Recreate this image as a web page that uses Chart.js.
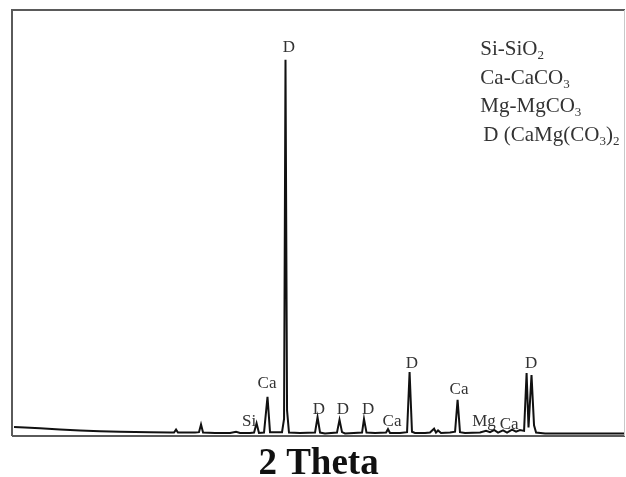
<!DOCTYPE html>
<html>
<head>
<meta charset="utf-8">
<script src="https://cdn.jsdelivr.net/npm/chart.js@4"></script>
<style>
  body { margin: 0; background: #fff; }
  canvas { display: block; }
</style>
</head>
<body>
<canvas id="myChart" width="626" height="477"></canvas>
<script>
// XRD pattern (2 theta in degrees, intensity in counts)
const theta = [
  8.17, 9.08, 10.33, 12.0, 13.67, 15.33, 17.0, 19.5, 21.17, 21.5, 21.67, 21.83,
  23.25, 23.58, 23.75, 23.92, 24.92, 26.17, 26.67, 27.0, 27.83, 28.17, 28.38, 28.58,
  29.0, 29.29, 29.5, 30.5, 30.67, 30.79, 30.92, 31.08, 32.0, 33.25, 33.46, 33.67,
  34.08, 35.08, 35.29, 35.5, 35.75, 37.17, 37.33, 37.54, 38.25, 39.17, 39.33, 39.5,
  40.33, 40.92, 41.13, 41.33, 41.58, 42.42, 42.83, 43.17, 43.33, 43.5, 43.75, 44.5,
  44.92, 45.13, 45.33, 45.75, 47.0, 47.5, 47.83, 48.17, 48.5, 48.92, 49.25, 49.67,
  50.0, 50.33, 50.67, 50.88, 51.04, 51.29, 51.5, 51.67, 52.42, 55.33, 59.08
];
const intensity = [
  21, 20, 18, 15, 13, 11, 10, 9, 8, 8, 15, 8,
  8, 9, 27, 8, 7, 7, 10, 7, 7, 8, 30, 7,
  8, 92, 9, 9, 40, 883, 60, 8, 7, 8, 44, 8,
  6, 8, 38, 9, 6, 8, 40, 8, 7, 8, 16, 7,
  7, 9, 150, 10, 7, 7, 8, 17, 8, 13, 7, 8,
  10, 85, 9, 7, 8, 12, 9, 14, 8, 13, 8, 15,
  10, 14, 12, 148, 20, 143, 25, 8, 6, 6, 6
];

// phase labels on the peaks
const peakNames = ["D", "Ca", "Si", "D", "D", "D", "Ca", "D", "Ca", "Mg", "Ca", "D"];
const peakTheta = [31.08, 29.25, 27.75, 33.58, 35.58, 37.67, 39.67, 41.33, 45.25, 47.33, 49.42, 51.25];
const peakLevel = [911, 124, 35, 63, 61, 63, 33, 171, 110, 35, 28, 169];

// phase key: [text, subscript, ...]
const keyText = [
  ["Si-SiO", "2"],
  ["Ca-CaCO", "3"],
  ["Mg-MgCO", "3"],
  ["D (CaMg(CO", "3", ")", "2"]
];

const serif = "'Liberation Serif', 'Times New Roman', serif";

const framePlugin = {
  id: "frame",
  afterDraw(chart) {
    const { ctx, chartArea: a } = chart;
    ctx.save();
    ctx.strokeStyle = "#5a5a5a";
    ctx.lineWidth = 2;
    ctx.beginPath();
    ctx.moveTo(a.left, a.bottom);
    ctx.lineTo(a.left, a.top);
    ctx.lineTo(a.right, a.top);
    ctx.moveTo(a.left, a.bottom);
    ctx.lineTo(a.right, a.bottom);
    ctx.stroke();
    ctx.strokeStyle = "#c8c8c8";
    ctx.lineWidth = 1;
    ctx.beginPath();
    ctx.moveTo(a.right - 0.5, a.top);
    ctx.lineTo(a.right - 0.5, a.bottom);
    ctx.stroke();
    ctx.restore();
  },
};

const peakLabelPlugin = {
  id: "peakLabels",
  afterDatasetsDraw(chart) {
    const { ctx, scales } = chart;
    ctx.save();
    ctx.fillStyle = "#333";
    ctx.font = `17px ${serif}`;
    ctx.textAlign = "center";
    ctx.textBaseline = "middle";
    peakNames.forEach((name, i) => {
      const x = scales.x.getPixelForValue(peakTheta[i]);
      const y = scales.y.getPixelForValue(peakLevel[i]);
      ctx.fillText(name, x, y);
    });
    ctx.restore();
  },
};

const keyPlugin = {
  id: "phaseKey",
  afterDraw(chart) {
    const { ctx, chartArea: a } = chart;
    ctx.save();
    ctx.fillStyle = "#333";
    ctx.textBaseline = "alphabetic";
    const startX = a.left + (a.right - a.left) * 0.764;
    keyText.forEach((parts, row) => {
      let x = startX + (row === 3 ? 3 : 0);
      const y = a.top + 45 + row * 28.7;
      parts.forEach((part, j) => {
        const sub = j % 2 === 1;
        ctx.font = sub ? `13px ${serif}` : `21px ${serif}`;
        ctx.fillText(part, x, sub ? y + 4 : y);
        x += ctx.measureText(part).width;
      });
    });
    ctx.restore();
  },
};

new Chart(document.getElementById("myChart"), {
  type: "line",
  data: {
    datasets: [
      {
        data: theta.map((t, i) => ({ x: t, y: intensity[i] })),
        borderColor: "#111",
        borderWidth: 2,
        pointRadius: 0,
        tension: 0,
        fill: false,
      },
    ],
  },
  options: {
    responsive: false,
    animation: false,
    layout: { padding: { left: 12, right: 1, top: 10, bottom: 0 } },
    plugins: {
      legend: { display: false },
      tooltip: { enabled: false },
    },
    scales: {
      x: {
        type: "linear",
        min: 8,
        max: 59.08,
        grid: { display: false, drawTicks: false },
        border: { display: false },
        ticks: { display: false },
        title: {
          display: true,
          text: "2 Theta",
          color: "#111",
          font: { family: serif, size: 37, weight: "bold", lineHeight: 0.66 },
          padding: { top: 16.6, bottom: 0 },
        },
      },
      y: {
        min: 0,
        max: 1000,
        display: false,
      },
    },
  },
  plugins: [framePlugin, peakLabelPlugin, keyPlugin],
});
</script>
</body>
</html>
